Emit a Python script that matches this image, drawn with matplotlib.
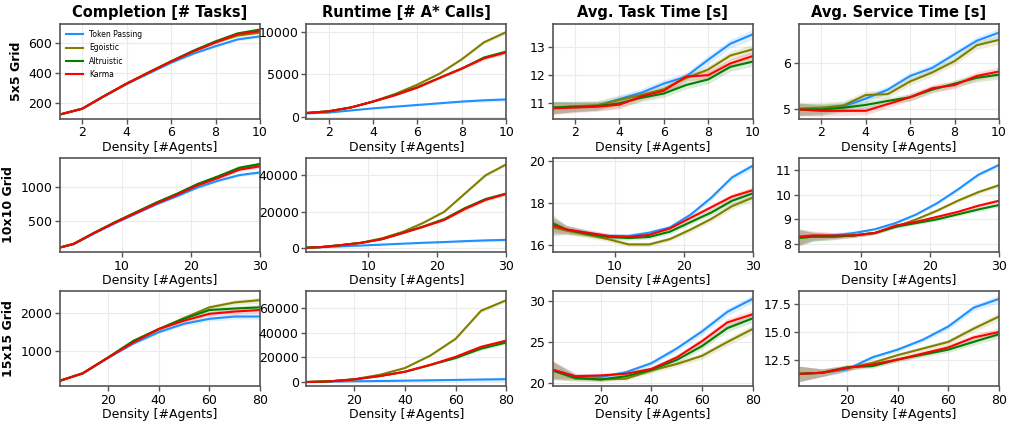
import matplotlib
matplotlib.use("Agg")
import matplotlib.pyplot as plt
import numpy as np

# ---------------- data ----------------
methods = ["Token Passing", "Egoistic", "Altruistic", "Karma"]
colors = ["#1e90ff", "#808000", "#008000", "#ff0000"]
col_titles = ["Completion [# Tasks]", "Runtime [# A* Calls]", "Avg. Task Time [s]", "Avg. Service Time [s]"]
row_labels = ["5x5 Grid", "10x10 Grid", "15x15 Grid"]
xlabel = "Density [#Agents]"

x_5 = [1, 2, 3, 4, 5, 6, 7, 8, 9, 10]
x_10 = [1, 3, 6, 9, 12, 15, 18, 21, 24, 27, 30]
x_15 = [1, 10, 20, 30, 40, 50, 60, 70, 80]
xticks_5 = [2, 4, 6, 8, 10]
xticks_10 = [10, 20, 30]
xticks_15 = [20, 40, 60, 80]

# y ticks per panel (row, column)
yticks_5 = [[200, 400, 600], [0, 5000, 10000], [11, 12, 13], [5, 6]]
yticks_10 = [[500, 1000], [0, 20000, 40000], [16, 18, 20], [8, 9, 10, 11]]
yticks_15 = [[1000, 2000], [0, 20000, 40000, 60000], [20, 25, 30], [12.5, 15.0, 17.5]]
ylims_5 = [(100, 727), (-200, 10950), (10.46, 13.82), (4.78, 6.87)]
ylims_10 = [(40, 1437), (-2200, 49600), (15.68, 20.13), (7.67, 11.49)]
ylims_15 = [(87, 2567), (-3000, 73000), (19.6, 31.2), (10.1, 18.67)]

# 5x5 grid
comp5_tp = [127, 165, 250, 330, 400, 470, 530, 580, 625, 645]
comp5_eg = [127, 165, 250, 330, 405, 478, 545, 605, 650, 670]
comp5_al = [127, 165, 250, 332, 407, 480, 550, 612, 665, 690]
comp5_ka = [127, 165, 250, 332, 406, 478, 545, 605, 660, 680]
comp5_ci = [4, 4, 5, 5, 6, 6, 7, 8, 9, 10]

run5_tp = [400, 500, 750, 1000, 1200, 1400, 1600, 1800, 1950, 2050]
run5_eg = [450, 650, 1100, 1800, 2700, 3800, 5100, 6800, 8800, 10000]
run5_al = [450, 650, 1100, 1800, 2600, 3500, 4600, 5700, 7000, 7700]
run5_ka = [450, 650, 1100, 1800, 2550, 3450, 4600, 5700, 6900, 7600]
run5_ci = [20, 30, 40, 60, 80, 100, 120, 150, 200, 220]

task5_tp = [10.85, 10.88, 10.92, 11.15, 11.38, 11.70, 11.95, 12.55, 13.12, 13.45]
task5_eg = [10.85, 10.90, 10.93, 11.12, 11.30, 11.50, 11.90, 12.20, 12.70, 12.92]
task5_al = [10.85, 10.88, 10.90, 11.00, 11.20, 11.35, 11.65, 11.85, 12.30, 12.48]
task5_ka = [10.82, 10.85, 10.88, 10.95, 11.25, 11.45, 11.95, 12.00, 12.42, 12.68]
task5_ci = [0.22, 0.18, 0.16, 0.15, 0.14, 0.14, 0.14, 0.15, 0.16, 0.17]

serv5_tp = [4.98, 4.98, 5.05, 5.22, 5.42, 5.72, 5.90, 6.20, 6.50, 6.68]
serv5_eg = [5.00, 5.02, 5.07, 5.30, 5.32, 5.60, 5.80, 6.05, 6.40, 6.52]
serv5_al = [4.98, 4.98, 5.02, 5.08, 5.17, 5.25, 5.42, 5.55, 5.68, 5.75]
serv5_ka = [4.98, 4.95, 4.95, 4.95, 5.10, 5.25, 5.45, 5.52, 5.72, 5.82]
serv5_ci = [0.14, 0.12, 0.10, 0.09, 0.08, 0.08, 0.08, 0.08, 0.09, 0.10]

# 10x10 grid
comp10_tp = [110, 160, 320, 470, 610, 750, 870, 1000, 1100, 1180, 1220]
comp10_eg = [110, 165, 330, 485, 630, 775, 905, 1050, 1160, 1280, 1340]
comp10_al = [110, 165, 330, 485, 630, 775, 905, 1050, 1165, 1290, 1345]
comp10_ka = [110, 165, 328, 480, 620, 760, 890, 1030, 1140, 1260, 1310]
comp10_ci = [5, 6, 8, 10, 12, 14, 16, 18, 20, 22, 24]

run10_tp = [300, 500, 1000, 1500, 2000, 2500, 3000, 3400, 3900, 4300, 4600]
run10_eg = [300, 600, 1700, 3000, 5500, 9000, 14000, 20000, 30000, 40000, 46000]
run10_al = [300, 600, 1700, 3000, 5000, 8500, 12000, 16000, 22000, 27000, 30000]
run10_ka = [300, 600, 1700, 3000, 5000, 8300, 11800, 15500, 21500, 26500, 29800]
run10_ci = [30, 50, 100, 150, 250, 350, 450, 550, 700, 800, 900]

task10_tp = [16.90, 16.75, 16.60, 16.45, 16.45, 16.60, 16.85, 17.45, 18.25, 19.20, 19.75]
task10_eg = [16.85, 16.70, 16.50, 16.30, 16.05, 16.05, 16.30, 16.75, 17.25, 17.85, 18.25]
task10_al = [17.05, 16.75, 16.55, 16.40, 16.35, 16.40, 16.65, 17.10, 17.55, 18.10, 18.45]
task10_ka = [16.95, 16.75, 16.60, 16.45, 16.40, 16.50, 16.80, 17.30, 17.80, 18.30, 18.60]
task10_ci = [0.40, 0.20, 0.14, 0.12, 0.10, 0.10, 0.10, 0.12, 0.13, 0.14, 0.15]

serv10_tp = [8.30, 8.30, 8.35, 8.45, 8.60, 8.85, 9.20, 9.65, 10.20, 10.80, 11.20]
serv10_eg = [8.25, 8.30, 8.30, 8.35, 8.45, 8.70, 9.00, 9.35, 9.75, 10.10, 10.38]
serv10_al = [8.25, 8.30, 8.30, 8.35, 8.45, 8.70, 8.85, 9.00, 9.20, 9.40, 9.58]
serv10_ka = [8.30, 8.35, 8.35, 8.35, 8.45, 8.75, 8.90, 9.10, 9.30, 9.55, 9.75]
serv10_ci = [0.32, 0.18, 0.12, 0.08, 0.06, 0.06, 0.06, 0.07, 0.07, 0.08, 0.08]

# 15x15 grid
comp15_tp = [225, 420, 830, 1200, 1500, 1720, 1850, 1910, 1910]
comp15_eg = [225, 420, 835, 1270, 1580, 1870, 2150, 2280, 2340]
comp15_al = [225, 420, 835, 1270, 1580, 1850, 2080, 2120, 2150]
comp15_ka = [225, 420, 830, 1230, 1580, 1800, 1980, 2040, 2080]
comp15_ci = [8, 12, 20, 30, 40, 50, 60, 70, 75]

run15_tp = [200, 500, 800, 1000, 1300, 1600, 1900, 2200, 2500]
run15_eg = [200, 700, 2500, 6000, 11500, 21500, 35000, 57500, 66000]
run15_al = [200, 700, 2300, 5000, 8500, 14000, 19500, 27000, 32000]
run15_ka = [200, 700, 2300, 5000, 8500, 14000, 20500, 28500, 33500]
run15_ci = [30, 60, 150, 300, 500, 700, 900, 1300, 1500]

task15_tp = [21.6, 20.8, 20.7, 21.3, 22.4, 24.2, 26.3, 28.7, 30.3]
task15_eg = [21.5, 20.5, 20.4, 20.5, 21.5, 22.3, 23.3, 25.0, 26.6]
task15_al = [21.5, 20.6, 20.4, 20.8, 21.6, 22.8, 24.5, 26.7, 27.9]
task15_ka = [21.6, 20.8, 20.9, 21.1, 21.7, 23.1, 25.1, 27.4, 28.4]
task15_ci = [1.1, 0.35, 0.25, 0.25, 0.3, 0.35, 0.4, 0.45, 0.5]

serv15_tp = [11.2, 11.3, 11.6, 12.7, 13.4, 14.3, 15.5, 17.2, 18.0]
serv15_eg = [11.2, 11.3, 11.7, 12.2, 12.9, 13.5, 14.1, 15.3, 16.4]
serv15_al = [11.2, 11.3, 11.8, 11.9, 12.5, 12.95, 13.4, 14.1, 14.8]
serv15_ka = [11.2, 11.3, 11.75, 12.05, 12.5, 13.05, 13.6, 14.5, 15.0]
serv15_ci = [0.7, 0.35, 0.25, 0.2, 0.2, 0.22, 0.25, 0.3, 0.35]

grid_x = [x_5, x_10, x_15]
grid_xticks = [xticks_5, xticks_10, xticks_15]
grid_yticks = [yticks_5, yticks_10, yticks_15]
grid_ylims = [ylims_5, ylims_10, ylims_15]
panels = [
    [(comp5_tp, comp5_eg, comp5_al, comp5_ka, comp5_ci),
     (run5_tp, run5_eg, run5_al, run5_ka, run5_ci),
     (task5_tp, task5_eg, task5_al, task5_ka, task5_ci),
     (serv5_tp, serv5_eg, serv5_al, serv5_ka, serv5_ci)],
    [(comp10_tp, comp10_eg, comp10_al, comp10_ka, comp10_ci),
     (run10_tp, run10_eg, run10_al, run10_ka, run10_ci),
     (task10_tp, task10_eg, task10_al, task10_ka, task10_ci),
     (serv10_tp, serv10_eg, serv10_al, serv10_ka, serv10_ci)],
    [(comp15_tp, comp15_eg, comp15_al, comp15_ka, comp15_ci),
     (run15_tp, run15_eg, run15_al, run15_ka, run15_ci),
     (task15_tp, task15_eg, task15_al, task15_ka, task15_ci),
     (serv15_tp, serv15_eg, serv15_al, serv15_ka, serv15_ci)],
]

# ---------------- plot ----------------
plt.rcParams["font.family"] = ["DejaVu Sans"]
fig, axes = plt.subplots(3, 4, figsize=(10.12, 4.29), dpi=100)
fig.subplots_adjust(left=60 / 1012, right=999 / 1012, top=1 - 24 / 429,
                    bottom=1 - 386 / 429, wspace=0.232, hspace=0.415)

spine_col = "#555555"
for r in range(3):
    xs = np.array(grid_x[r])
    for c in range(4):
        ax = axes[r, c]
        data = panels[r][c]
        ci = np.array(data[4], dtype=float)
        for k in range(4):
            y = np.array(data[k], dtype=float)
            ax.fill_between(xs, y - ci, y + ci, color=colors[k], alpha=0.15, linewidth=0)
            ax.plot(xs, y, color=colors[k], lw=1.5, label=methods[k])
        ax.set_xlim(xs[0], xs[-1])
        ax.set_xticks(grid_xticks[r])
        ax.set_yticks(grid_yticks[r][c])
        ax.set_ylim(*grid_ylims[r][c])
        ax.grid(True, color="#ebebeb", lw=0.8)
        ax.set_axisbelow(True)
        for s in ax.spines.values():
            s.set_color(spine_col)
            s.set_linewidth(1.2)
        ax.tick_params(labelsize=9, color=spine_col, length=3.5, width=1.0, pad=2)
        ax.set_xlabel(xlabel, fontsize=9, labelpad=1)
        if r == 0:
            ax.set_title(col_titles[c], fontsize=10.5, fontweight="bold", pad=5)
        if c == 0:
            ax.set_ylabel(row_labels[r], fontsize=9, fontweight="bold")

axes[0, 0].legend(loc="upper left", fontsize=5.5, frameon=False, handlelength=2.2,
                  borderaxespad=0.4, labelspacing=0.55)

fig.savefig("out.png", dpi=100)
